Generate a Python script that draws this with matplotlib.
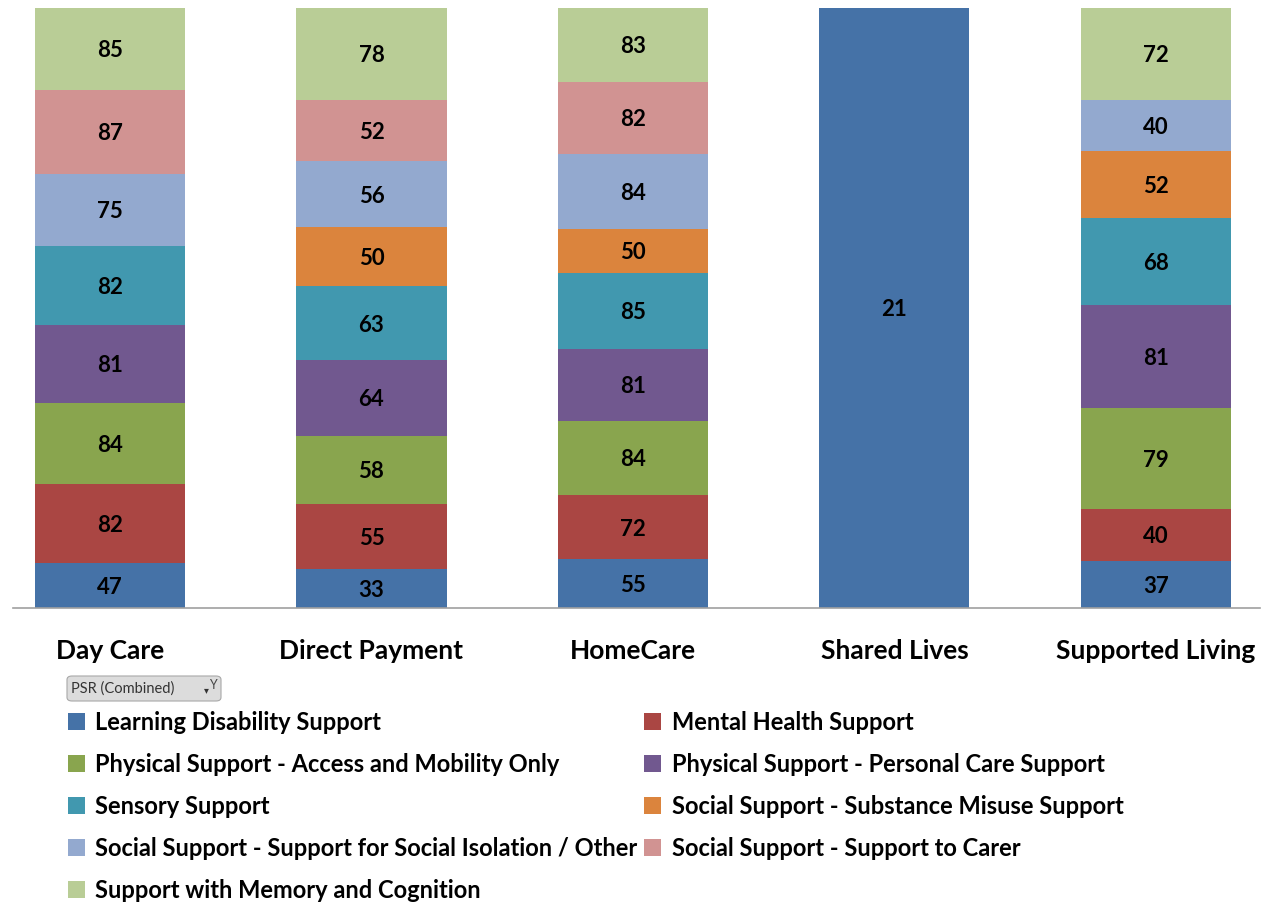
import numpy as np
import matplotlib.pyplot as plt
from matplotlib.patches import FancyBboxPatch, Patch

plt.rcParams['font.family'] = ['Lato', 'DejaVu Sans']

categories = ['Day Care', 'Direct Payment', 'HomeCare', 'Shared Lives', 'Supported Living']

series_names = [
    'Learning Disability Support',
    'Mental Health Support',
    'Physical Support - Access and Mobility Only',
    'Physical Support - Personal Care Support',
    'Sensory Support',
    'Social Support - Substance Misuse Support',
    'Social Support - Support for Social Isolation / Other',
    'Social Support - Support to Carer',
    'Support with Memory and Cognition',
]

learning_disability = [47, 33, 55, 21, 37]
mental_health = [82, 55, 72, 0, 40]
access_mobility = [84, 58, 84, 0, 79]
personal_care = [81, 64, 81, 0, 81]
sensory = [82, 63, 85, 0, 68]
substance_misuse = [0, 50, 50, 0, 52]
social_isolation = [75, 56, 84, 0, 40]
support_to_carer = [87, 52, 82, 0, 0]
memory_cognition = [85, 78, 83, 0, 72]

colors = ['#4572A7', '#AA4643', '#89A54E', '#71588F', '#4198AF',
          '#DB843D', '#93A9CF', '#D19392', '#B9CD96']

values = np.array([learning_disability, mental_health, access_mobility,
                   personal_care, sensory, substance_misuse,
                   social_isolation, support_to_carer, memory_cognition], dtype=float)
totals = values.sum(axis=0)
shares = values / totals * 100

fig = plt.figure(figsize=(12.67, 9.02), dpi=100)
ax = fig.add_axes([13 / 1267, 1 - 608 / 902, 1247 / 1267, 600 / 902])

x = np.arange(len(categories))
bottom = np.zeros(len(categories))
handles = []
for i, name in enumerate(series_names):
    bars = ax.bar(x, shares[i], 0.574, bottom=bottom, color=colors[i], label=name)
    labels = [f'{int(v)}' if v > 0 else '' for v in values[i]]
    for b, lab in zip(bars, labels):
        if lab:
            ax.text(b.get_x() + b.get_width() / 2, b.get_y() + b.get_height() / 2 - 0.3,
                    lab, ha='center', va='center', fontsize=16, fontweight='bold',
                    color='black')
    bottom += shares[i]
    handles.append(Patch(facecolor=colors[i], edgecolor='none'))

ax.set_xlim(-0.371, 4.398)
ax.set_ylim(0, 100)
ax.set_yticks([])
ax.set_xticks(x)
ax.set_xticklabels(categories, fontsize=19, fontweight='bold')
ax.tick_params(axis='x', length=0, pad=22)
for side in ['top', 'right', 'left']:
    ax.spines[side].set_visible(False)
ax.spines['bottom'].set_color('#A0A0A0')
ax.spines['bottom'].set_linewidth(1.2)

# legend, filled row by row
order = [0, 2, 4, 6, 8, 1, 3, 5, 7]
leg = fig.legend([handles[k] for k in order], [series_names[k] for k in order],
                 loc='upper left', bbox_to_anchor=(68 / 1267, 1 - 711 / 902),
                 ncol=2, frameon=False, prop={'weight': 'bold', 'size': 17},
                 handlelength=0.7, handleheight=0.7, handletextpad=0.45,
                 columnspacing=0.3, labelspacing=0.8, borderaxespad=0, borderpad=0)

# PSR field button
btn = FancyBboxPatch((67 / 1267, 1 - 701 / 902), 154 / 1267, 25 / 902,
                     boxstyle='round,pad=0,rounding_size=0.004',
                     transform=fig.transFigure, facecolor='#DCDCDC',
                     edgecolor='#A8A8A8', linewidth=0.8)
fig.patches.append(btn)
fig.text(71 / 1267, 1 - 689 / 902, 'PSR (Combined)', fontsize=10.5,
         color='#333333', va='center', ha='left')
fig.text(206 / 1267, 1 - 691 / 902, '\u25BE', fontsize=7, color='#333333',
         va='center', ha='center')
fig.text(213 / 1267, 1 - 685 / 902, 'Y', fontsize=9, color='#444444',
         va='center', ha='center')

fig.savefig('out.png', dpi=100)
